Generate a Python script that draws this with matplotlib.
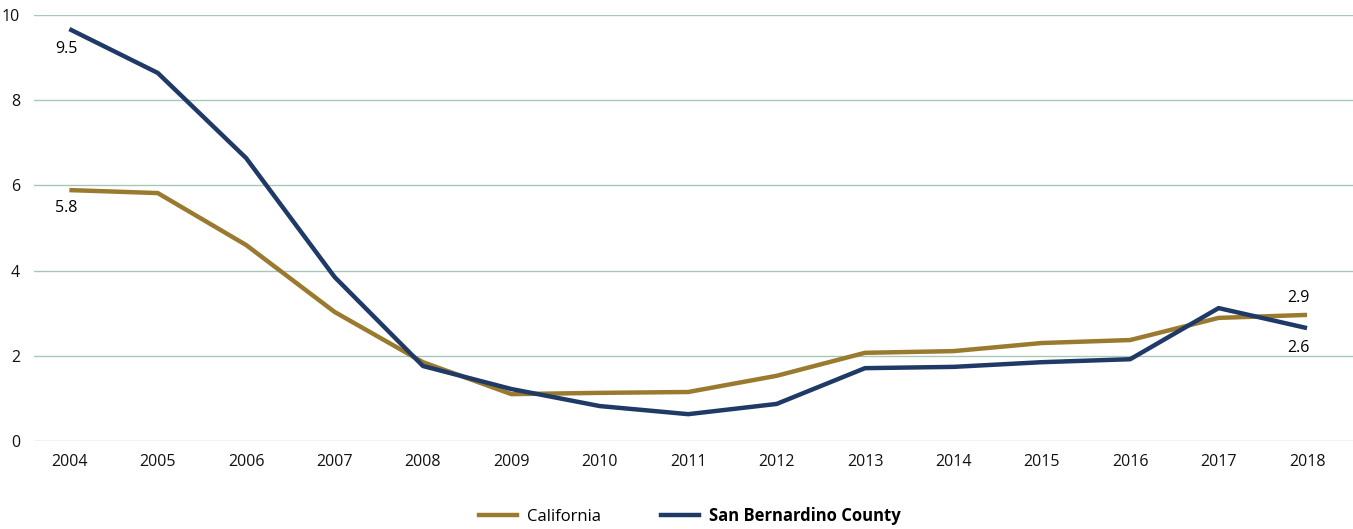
import matplotlib.pyplot as plt
from matplotlib.lines import Line2D

years = list(range(2004, 2019))
california = [5.89, 5.82, 4.60, 3.03, 1.85, 1.10, 1.13, 1.15, 1.53, 2.07, 2.11, 2.30, 2.37, 2.89, 2.96]
san_bernardino = [9.67, 8.64, 6.64, 3.85, 1.76, 1.22, 0.82, 0.63, 0.87, 1.71, 1.74, 1.85, 1.92, 3.12, 2.65]

gold = '#9a7a2e'
navy = '#1f3a66'
grid_c = '#a6c7b8'

plt.rcParams['font.family'] = ['Open Sans', 'DejaVu Sans']

fig = plt.figure(figsize=(13.53, 5.29), dpi=100)
ax = fig.add_axes([34/1353, 1 - 441/529, 1 - 34/1353, (441 - 15)/529])

ax.plot(years, california, color=gold, lw=3.2, solid_capstyle='butt')
ax.plot(years, san_bernardino, color=navy, lw=3.2, solid_capstyle='butt')

ax.set_xlim(2003.6, 2018.52)
ax.set_ylim(0, 10)
ax.set_yticks(range(0, 11, 2))
ax.set_xticks(years)
ax.grid(axis='y', color=grid_c, lw=1)
ax.set_axisbelow(True)
for s in ax.spines.values():
    s.set_visible(False)
ax.tick_params(axis='both', length=0, labelsize=11.5, colors='#111111')
ax.tick_params(axis='y', pad=10)
ax.tick_params(axis='x', pad=9)

# value labels
ax.annotate('9.5', (years[0], san_bernardino[0]), xytext=(-2, -14), textcoords='offset points',
            ha='center', va='center', fontsize=11.5)
ax.annotate('5.8', (years[0], california[0]), xytext=(-2, -13), textcoords='offset points',
            ha='center', va='center', fontsize=11.5)
ax.annotate('2.9', (years[-1], california[-1]), xytext=(-6, 12), textcoords='offset points',
            ha='center', va='center', fontsize=11.5)
ax.annotate('2.6', (years[-1], san_bernardino[-1]), xytext=(-6, -14), textcoords='offset points',
            ha='center', va='center', fontsize=11.5)

handles = [Line2D([], [], color=gold, lw=3.2), Line2D([], [], color=navy, lw=3.2)]
leg = fig.legend(handles, ['California', 'San Bernardino County'], loc='center',
                 bbox_to_anchor=(0.51, 1 - 516/529), ncol=2, frameon=False,
                 fontsize=12, handlelength=2.3, columnspacing=3.6, handletextpad=0.6)
leg.get_texts()[1].set_fontweight('bold')

fig.savefig('out.png', dpi=100)
